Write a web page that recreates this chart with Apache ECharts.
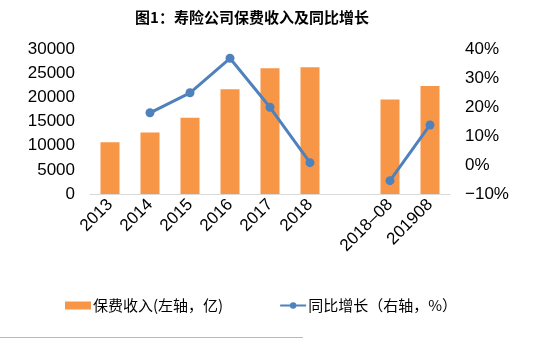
<!DOCTYPE html>
<html><head><meta charset="utf-8">
<script src="https://cdn.jsdelivr.net/npm/echarts@6/dist/echarts.min.js"></script>
<style>html,body{margin:0;padding:0;background:#fff}#c{width:541px;height:339px}</style>
</head><body><div id="c"></div>
<script>
var categories = ['2013','2014','2015','2016','2017','2018','','2018-08','201908'];
var premium = [10700, 12700, 15800, 21650, 26000, 26250, null, 19550, 22330];
var growth = [null, 18.0, 24.9, 36.8, 19.9, 0.8, null, -5.4, 13.8];
var leftTicks = [0, 30000, 5000];
var rightTicks = [-10, 40, 10];
var seriesNames = ['保费收入(左轴，亿)', '同比增长（右轴，%）'];
var titleText = '图1：寿险公司保费收入及同比增长';

var font = 'Liberation Sans, Arial, Noto Sans CJK SC, sans-serif';
var chart = echarts.init(document.getElementById('c'), null, {renderer:'canvas'});
chart.setOption({
  animation:false,
  title:{text:titleText,left:247,textAlign:'center',top:5,textStyle:{fontSize:15,fontWeight:'bold',color:'#000',fontFamily:'Noto Sans CJK SC, sans-serif'}},
  grid:{left:90,right:91,top:49,bottom:145},
  legend:{
    left:60, top:293, itemGap:56,
    textStyle:{fontSize:15,color:'#000',fontFamily:'Noto Sans CJK SC, sans-serif',padding:[0,0,0,-3]},
    data:[
      {name:seriesNames[0],icon:'rect',itemStyle:{color:'#F79646'}},
      {name:seriesNames[1]}
    ],
    itemWidth:26,itemHeight:8
  },
  xAxis:{type:'category',data:categories,
    axisLine:{lineStyle:{color:'#d9d9d9',width:1}},axisTick:{show:false},
    axisLabel:{rotate:45,fontSize:17,color:'#000',fontFamily:font,interval:0,margin:8,
      formatter:function(v){return v.replace('-','–');}}},
  yAxis:[
    {type:'value',min:leftTicks[0],max:leftTicks[1],interval:leftTicks[2],
      splitLine:{show:false},axisLine:{show:false},axisTick:{show:false},
      axisLabel:{fontSize:17,color:'#000',fontFamily:font,margin:15,
        formatter:function(v){return String(v);}}},
    {type:'value',min:rightTicks[0],max:rightTicks[1],interval:rightTicks[2],
      splitLine:{show:false},axisLine:{show:false},axisTick:{show:false},
      axisLabel:{fontSize:17,color:'#000',fontFamily:font,margin:15,
        formatter:function(v){return (v<0?'−'+(-v):v)+'%';}}}
  ],
  series:[
    {name:seriesNames[0],type:'bar',data:premium,barWidth:19,yAxisIndex:0,
      itemStyle:{color:'#F79646'}},
    {name:seriesNames[1],type:'line',data:growth,yAxisIndex:1,
      symbol:'circle',symbolSize:9,connectNulls:false,
      lineStyle:{color:'#4F81BD',width:3},itemStyle:{color:'#4F81BD'}}
  ],
  graphic:[{type:'line',shape:{x1:0,y1:337.5,x2:303,y2:337.5},style:{stroke:'#F4A582',lineWidth:1.2}}]
});
</script></body></html>
